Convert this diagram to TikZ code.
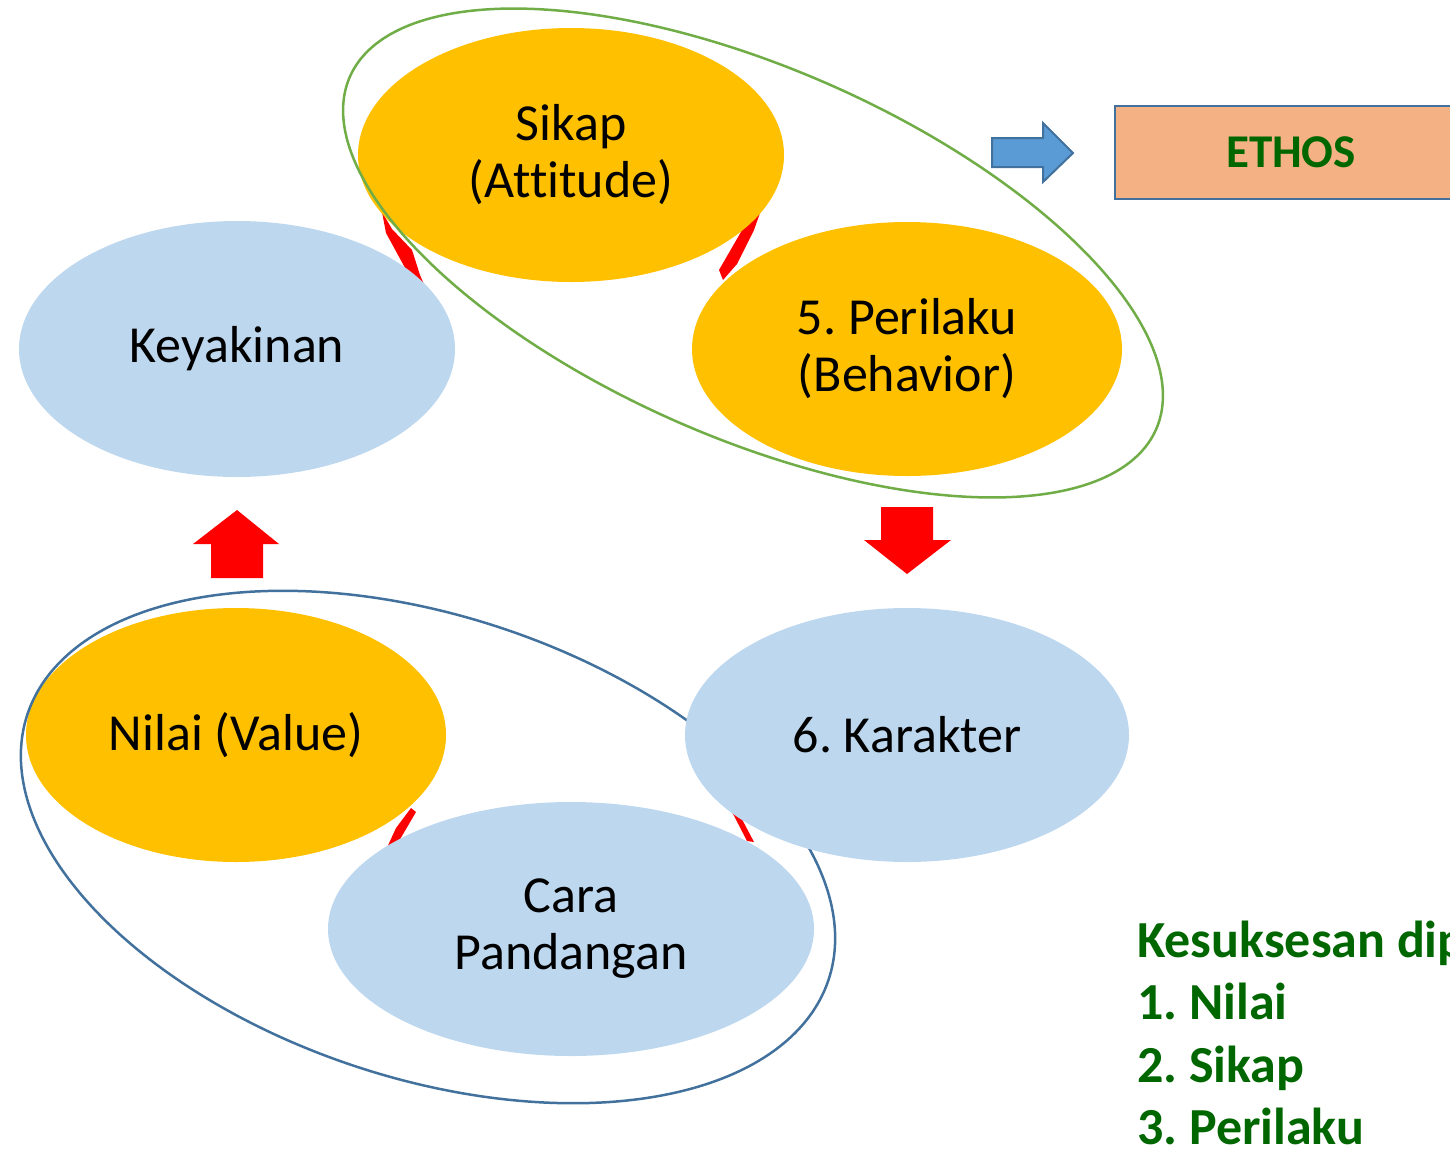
\documentclass[tikz,border=0pt]{standalone}
\usepackage{fontspec}
\setmainfont{Carlito}[Ligatures=NoCommon]
\frenchspacing
\usetikzlibrary{shapes.geometric}
\definecolor{orng}{HTML}{FFC000}
\definecolor{lblue}{HTML}{BDD7EE}
\definecolor{gline}{HTML}{70AD47}
\definecolor{bline}{HTML}{41719C}
\definecolor{ethosfill}{HTML}{F4B183}
\definecolor{arrblue}{HTML}{5B9BD5}
\definecolor{dgreen}{HTML}{006600}
\begin{document}
\begin{tikzpicture}[x=1pt,y=-1pt,
  ell/.style={ellipse, inner sep=0pt, align=center, font=\fontsize{52}{57}\selectfont, text=black},
  orell/.style={ell, fill=orng},
  blell/.style={ell, fill=lblue},
  smallred/.style={fill=red},
  bigred/.style={fill=red},
  greentxt/.style={anchor=base west, text=dgreen, font=\bfseries\fontsize{52}{63}\selectfont, inner sep=0pt}]
\useasboundingbox (0,0) rectangle (1450,1152);
\clip (0,0) rectangle (1450,1152);
% small red arrows (partly hidden behind ellipses)
\fill[smallred] (382,212) -- (392,229) -- (412,250) -- (420,275) -- (426,289) -- (410,277) -- (386,233) -- cycle;
\fill[smallred] (760,213) -- (754,230) -- (737,264) -- (723,280) -- (719,270) -- (745,225) -- cycle;
\fill[smallred] (411,808) -- (416,812) -- (392,853) -- (378,866) -- (385,852) -- (396,828) -- cycle;
\fill[smallred] (722,793) -- (735,806) -- (754,842) -- (747,841) -- (730,808) -- cycle;
% ellipses
\node[blell, minimum width=436, minimum height=256] (keyakinan) at (237,349) {Keyakinan};
\node[orell, minimum width=426, minimum height=254] (sikap) at (571,155) {Sikap\\(Attitude)};
\node[orell, minimum width=430, minimum height=254] (perilaku) at (907,349) {5. Perilaku\\(Behavior)};
\node[orell, minimum width=420, minimum height=254] (nilai) at (236,735) {Nilai (Value)};
\node[blell, minimum width=486, minimum height=254] (cara) at (571,929) {Cara\\Pandangan};
% blue outline
\draw[bline, line width=2.5pt] plot[domain=0:357, samples=120, smooth cycle, variable=\t]
  ({428+422*cos(\t)*cos(18.3)-231*sin(\t)*sin(18.3)},{847+422*cos(\t)*sin(18.3)+231*sin(\t)*cos(18.3)});
\node[blell, minimum width=444, minimum height=254] (karakter) at (907,735) {6. Karakter};
% green outline
\draw[gline, line width=2.5pt] plot[domain=0:357, samples=120, smooth cycle, variable=\t]
  ({753+440*cos(\t)*cos(23.6)-185*sin(\t)*sin(23.6)},{253+440*cos(\t)*sin(23.6)+185*sin(\t)*cos(23.6)});
% big red arrows
\fill[bigred] (237,510) -- (279,544) -- (263,544) -- (263,578) -- (211,578) -- (211,544) -- (193,544) -- cycle;
\fill[bigred] (881,507) -- (933,507) -- (933,540) -- (951,540) -- (907,574) -- (864,540) -- (881,540) -- cycle;
% blue arrow and ETHOS
\draw[bline, line width=2pt, fill=arrblue] (992,138) -- (1043,138) -- (1043,123) -- (1073,153) -- (1043,182) -- (1043,167) -- (992,167) -- cycle;
\node[draw=bline, fill=ethosfill, line width=2.5pt, minimum width=352, minimum height=93, inner sep=0pt,
  text=dgreen, font=\bfseries\fontsize{47}{50}\selectfont] (ethos) at (1291,152.5) {ETHOS};
% list
\node[greentxt] (t1) at (1137,957) {Kesuksesan dip};
\node[greentxt] (t2) at (1137,1019) {1. Nilai};
\node[greentxt] (t3) at (1137,1082) {2. Sikap};
\node[greentxt] (t4) at (1137,1144) {3. Perilaku};
\end{tikzpicture}
\end{document}
